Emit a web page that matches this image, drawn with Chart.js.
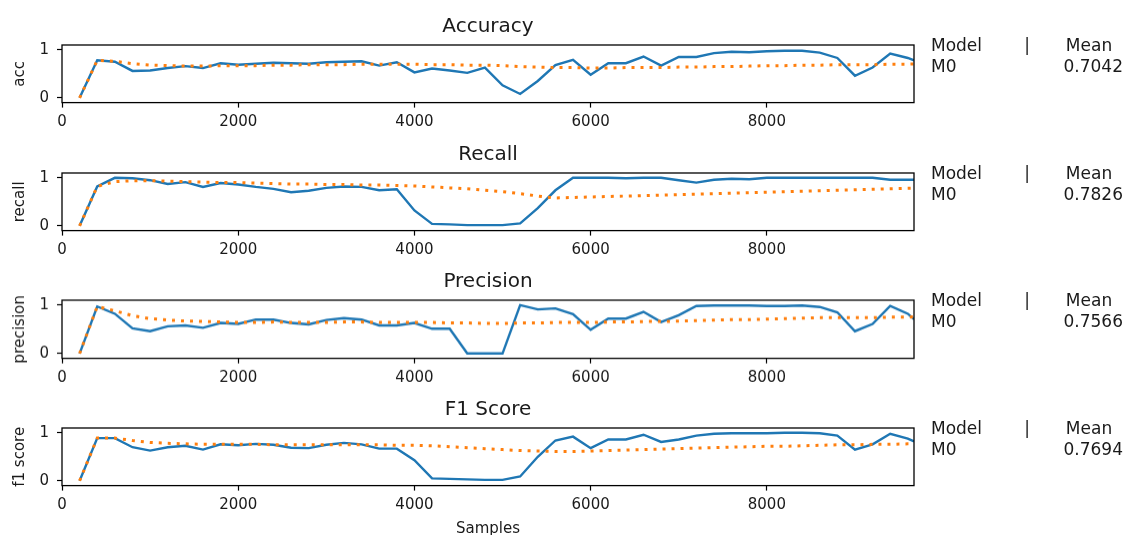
<!DOCTYPE html>
<html>
<head>
<meta charset="utf-8">
<script src="https://cdn.jsdelivr.net/npm/chart.js@4.4.1/dist/chart.umd.min.js"></script>
<style>
  body { margin: 0; background: #fff; font-family: "DejaVu Sans", sans-serif; color: #1a1a1a; }
  #fig { position: relative; width: 1126px; height: 535px; overflow: hidden; }
  .panel { position: absolute; left: 0; width: 1126px; height: 100px; }
  .txt { position: absolute; font-size: 15px; line-height: 1; white-space: nowrap; }
  .leg { position: absolute; font-size: 17px; line-height: 1; white-space: nowrap; }
  .mid { transform: translate(-50%, -50%); }
  .lft { transform: translateY(-50%); }
  .rgt { transform: translate(-100%, -50%); }
  .ttl { position: absolute; font-size: 20px; line-height: 1; white-space: nowrap; transform: translate(-50%, -50%); }
</style>
</head>
<body>
<div id="fig"></div>
<script>
// evaluation points (samples seen)
var samples = [200, 400, 600, 800, 1000, 1200, 1400, 1600, 1800, 2000,
  2200, 2400, 2600, 2800, 3000, 3200, 3400, 3600, 3800, 4000,
  4200, 4400, 4600, 4800, 5000, 5200, 5400, 5600, 5800, 6000,
  6200, 6400, 6600, 6800, 7000, 7200, 7400, 7600, 7800, 8000,
  8200, 8400, 8600, 8800, 9000, 9200, 9400, 9600, 9670];

var accCurrent = [0, 0.78, 0.75, 0.56, 0.57, 0.62, 0.66, 0.62, 0.72, 0.69,
  0.71, 0.73, 0.72, 0.71, 0.74, 0.75, 0.76, 0.67, 0.74, 0.53,
  0.61, 0.57, 0.52, 0.63, 0.26, 0.08, 0.35, 0.68, 0.79, 0.48,
  0.72, 0.72, 0.86, 0.67, 0.85, 0.85, 0.93, 0.96, 0.95, 0.97,
  0.98, 0.98, 0.94, 0.83, 0.46, 0.63, 0.92, 0.83, 0.78];
var accMean = [0, 0.78, 0.76, 0.71, 0.68, 0.67, 0.66, 0.66, 0.67, 0.67,
  0.67, 0.68, 0.68, 0.69, 0.69, 0.69, 0.70, 0.70, 0.70, 0.70,
  0.69, 0.69, 0.68, 0.68, 0.67, 0.65, 0.64, 0.63, 0.63, 0.62,
  0.62, 0.63, 0.63, 0.63, 0.64, 0.64, 0.65, 0.65, 0.66, 0.67,
  0.67, 0.68, 0.68, 0.69, 0.69, 0.69, 0.70, 0.70, 0.7042];

var recallCurrent = [0, 0.82, 1.0, 0.99, 0.95, 0.87, 0.91, 0.81, 0.89, 0.86,
  0.81, 0.77, 0.70, 0.73, 0.79, 0.82, 0.81, 0.74, 0.76, 0.32,
  0.04, 0.03, 0.015, 0.015, 0.015, 0.05, 0.37, 0.74, 1.0, 1.0,
  1.0, 0.99, 1.0, 1.0, 0.95, 0.90, 0.96, 0.98, 0.97, 1.0,
  1.0, 1.0, 1.0, 1.0, 1.0, 1.0, 0.96, 0.96, 0.96];
var recallMean = [0, 0.82, 0.92, 0.94, 0.94, 0.93, 0.92, 0.91, 0.90, 0.90,
  0.89, 0.88, 0.87, 0.87, 0.86, 0.86, 0.85, 0.85, 0.84, 0.83,
  0.81, 0.79, 0.77, 0.74, 0.71, 0.67, 0.62, 0.58, 0.59, 0.60,
  0.61, 0.62, 0.63, 0.64, 0.65, 0.66, 0.67, 0.68, 0.69, 0.70,
  0.71, 0.72, 0.73, 0.74, 0.75, 0.76, 0.77, 0.78, 0.7826];

var precisionCurrent = [0, 0.97, 0.82, 0.52, 0.46, 0.56, 0.58, 0.53, 0.63, 0.61,
  0.70, 0.70, 0.63, 0.60, 0.69, 0.73, 0.70, 0.58, 0.58, 0.63,
  0.51, 0.51, 0, 0, 0, 1.0, 0.91, 0.93, 0.81, 0.49,
  0.72, 0.72, 0.86, 0.65, 0.79, 0.98, 0.99, 0.99, 0.99, 0.98,
  0.98, 0.99, 0.96, 0.85, 0.46, 0.61, 0.98, 0.82, 0.71];
var precisionMean = [0, 0.97, 0.88, 0.78, 0.72, 0.69, 0.67, 0.66, 0.65, 0.64,
  0.64, 0.65, 0.64, 0.64, 0.64, 0.65, 0.65, 0.64, 0.64, 0.64,
  0.64, 0.63, 0.63, 0.62, 0.62, 0.63, 0.63, 0.64, 0.64, 0.64,
  0.65, 0.65, 0.66, 0.66, 0.67, 0.68, 0.69, 0.70, 0.70, 0.71,
  0.72, 0.73, 0.74, 0.74, 0.74, 0.74, 0.75, 0.75, 0.7566];

var f1Current = [0, 0.89, 0.89, 0.70, 0.63, 0.70, 0.73, 0.65, 0.76, 0.74,
  0.77, 0.75, 0.69, 0.68, 0.75, 0.79, 0.76, 0.67, 0.67, 0.43,
  0.05, 0.04, 0.03, 0.02, 0.02, 0.09, 0.50, 0.84, 0.92, 0.68,
  0.86, 0.86, 0.96, 0.81, 0.86, 0.94, 0.98, 0.99, 0.99, 0.99,
  1.0, 1.0, 0.99, 0.94, 0.65, 0.76, 0.98, 0.88, 0.82];
var f1Mean = [0, 0.89, 0.89, 0.84, 0.80, 0.78, 0.77, 0.76, 0.76, 0.76,
  0.76, 0.75, 0.75, 0.75, 0.75, 0.75, 0.75, 0.75, 0.74, 0.74,
  0.73, 0.71, 0.69, 0.67, 0.65, 0.63, 0.62, 0.61, 0.61, 0.62,
  0.63, 0.64, 0.65, 0.66, 0.67, 0.68, 0.69, 0.70, 0.71, 0.72,
  0.72, 0.73, 0.74, 0.75, 0.75, 0.76, 0.76, 0.77, 0.7694];

var xTicks = [0, 2000, 4000, 6000, 8000];
var yTicks = [0, 1];
var titles = ['Accuracy', 'Recall', 'Precision', 'F1 Score'];
var yLabels = ['acc', 'recall', 'precision', 'f1 score'];
var modelName = 'M0';

var panels = [
  { current: accCurrent, mean: accMean },
  { current: recallCurrent, mean: recallMean },
  { current: precisionCurrent, mean: precisionMean },
  { current: f1Current, mean: f1Mean }
];

var panelTops = [44.8, 172.5, 300, 427.5];
var boxH = 57.6;
var fig = document.getElementById('fig');

// black frame on all four sides, drawn over the lines
var frame = {
  id: 'frame',
  afterDatasetsDraw: function (chart) {
    var a = chart.chartArea, ctx = chart.ctx;
    ctx.save();
    ctx.strokeStyle = '#000';
    ctx.lineWidth = 1.3;
    ctx.strokeRect(a.left, a.top, a.right - a.left, a.bottom - a.top);
    ctx.restore();
  }
};

function addText(cls, text, x, y) {
  var d = document.createElement('div');
  d.className = cls;
  d.textContent = text;
  d.style.left = x + 'px';
  d.style.top = y + 'px';
  fig.appendChild(d);
}

function toPoints(values) {
  return samples.map(function (s, k) { return { x: s, y: values[k] }; });
}

Chart.defaults.font.family = '"DejaVu Sans", sans-serif';
Chart.defaults.color = '#1a1a1a';

panels.forEach(function (p, i) {
  var y0 = panelTops[i];
  var div = document.createElement('div');
  div.className = 'panel';
  div.style.top = y0 + 'px';
  var cv = document.createElement('canvas');
  div.appendChild(cv);
  fig.appendChild(div);

  var chart = new Chart(cv, {
    type: 'line',
    data: {
      datasets: [{
        label: 'mean',
        data: toPoints(p.mean),
        borderColor: '#ff7f0e',
        borderWidth: 3,
        borderDash: [3, 6],
        pointRadius: 0,
        tension: 0
      }, {
        label: 'current',
        data: toPoints(p.current),
        borderColor: '#1f77b4',
        borderWidth: 2.4,
        pointRadius: 0,
        tension: 0
      }]
    },
    options: {
      animation: false,
      responsive: true,
      maintainAspectRatio: false,
      layout: { padding: { top: 0, left: 0, right: 212, bottom: 0 } },
      plugins: { legend: { display: false }, tooltip: { enabled: false } },
      scales: {
        x: {
          type: 'linear',
          min: 0,
          max: 9670,
          afterBuildTicks: function (s) { s.ticks = xTicks.map(function (v) { return { value: v }; }); },
          afterFit: function (s) { s.height = 32; },
          grid: { drawOnChartArea: false, drawTicks: true, tickLength: 5, tickColor: '#000', tickWidth: 1.2 },
          border: { display: false },
          ticks: { font: { size: 15 }, padding: 6, maxRotation: 0, autoSkip: false,
            callback: function (v) { return String(v); } }
        },
        y: {
          min: -0.1,
          max: 1.1,
          afterBuildTicks: function (s) { s.ticks = yTicks.map(function (v) { return { value: v }; }); },
          afterFit: function (s) { s.width = 62; },
          grid: { drawOnChartArea: false, drawTicks: true, tickLength: 5, tickColor: '#000', tickWidth: 1.2 },
          border: { display: false },
          title: { display: true, text: yLabels[i], font: { size: 15 }, padding: { top: 11, bottom: 0 } },
          ticks: { font: { size: 15 }, padding: 8, callback: function (v) { return String(v); } }
        }
      }
    },
    plugins: [frame]
  });

  // the tick labels reserve some room above the plot box; shift and stretch the canvas so the box lands where wanted
  var a = chart.chartArea;
  var h = cv.parentNode.clientHeight + (boxH - (a.bottom - a.top));
  div.style.height = h + 'px';
  div.style.top = (y0 - a.top) + 'px';
  chart.resize();

  addText('ttl', titles[i], 488, y0 - 20);
  addText('leg lft', 'Model', 931, y0);
  addText('leg mid', '|', 1027, y0);
  addText('leg mid', 'Mean', 1089, y0);
  addText('leg lft', modelName, 931, y0 + 21);
  addText('leg rgt', p.mean[p.mean.length - 1].toFixed(4), 1123, y0 + 21);
});

addText('txt mid', 'Samples', 488, 528);
</script>
</body>
</html>
